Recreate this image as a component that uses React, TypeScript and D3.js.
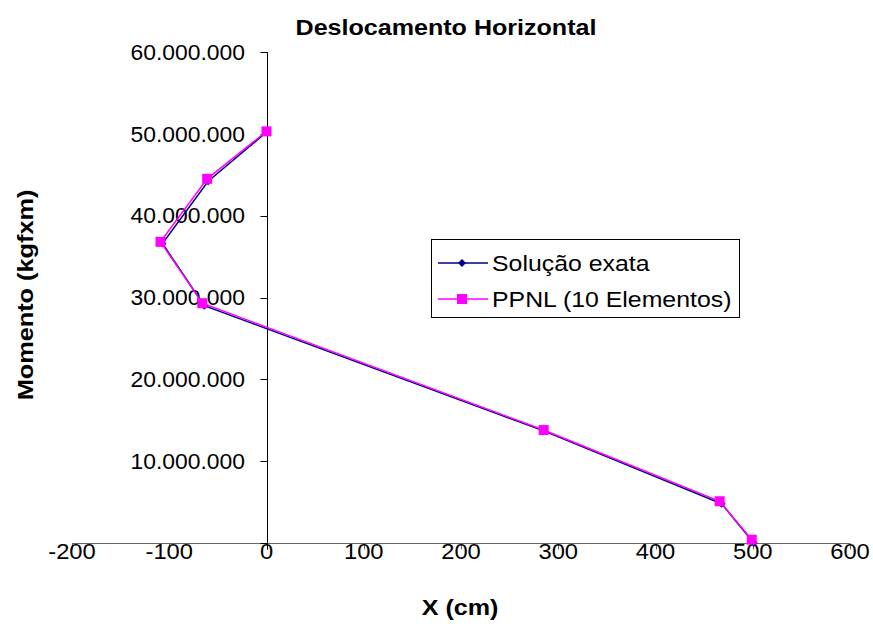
import React from "react";
import * as d3 from "d3";

// Series: horizontal displacement X (cm) vs bending moment (kgf x m)
const exactX = [0, -60, -107, -64, 285, 468, 501];
const exactM = [50200000, 44200000, 36600000, 29000000, 13700000, 4800000, 0];
const ppnlX = [0, -61, -109, -66, 285, 466, 499];
const ppnlM = [50300000, 44500000, 36800000, 29300000, 13800000, 5100000, 400000];

const xTicks = [-200, -100, 0, 100, 200, 300, 400, 500, 600];
const yTicks = [10000000, 20000000, 30000000, 40000000, 50000000, 60000000];

const seriesNames = ["Solução exata", "PPNL (10 Elementos)"];
const title = "Deslocamento Horizontal";
const xTitle = "X (cm)";
const yTitle = "Momento (kgfxm)";

const W = 873;
const H = 627;
const FONT = "Liberation Sans, Arial, sans-serif";
const NAVY = "#000080";
const MAGENTA = "#FF00FF";

const fmt = (v: number) => d3.format(",")(v).replace(/,/g, ".");

// Text with a slight horizontal stretch, as in wide Excel-style chart fonts
function Label(props: {
  x: number;
  y: number;
  sx?: number;
  rotate?: number;
  anchor?: "start" | "middle" | "end";
  size: number;
  bold?: boolean;
  dy?: string;
  children: React.ReactNode;
}) {
  const { x, y, sx = 1, rotate = 0, anchor = "start", size, bold, dy, children } = props;
  return (
    <text
      transform={`translate(${x},${y}) rotate(${rotate}) scale(${sx},1)`}
      textAnchor={anchor}
      fontSize={size}
      fontWeight={bold ? "bold" : "normal"}
      dy={dy}
    >
      {children}
    </text>
  );
}

export default function App() {
  const x = d3.scaleLinear().domain([-200, 600]).range([72, 850]);
  const y = d3.scaleLinear().domain([0, 60000000]).range([543, 52]);

  const exact = exactX.map((v, i) => [v, exactM[i]] as [number, number]);
  const ppnl = ppnlX.map((v, i) => [v, ppnlM[i]] as [number, number]);
  const line = d3
    .line<[number, number]>()
    .x((d) => x(d[0]))
    .y((d) => y(d[1]));

  const x0 = Math.round(x(0)) + 0.5;
  const yBase = Math.round(y(0)) + 0.5;

  const diamond = (cx: number, cy: number, r: number) =>
    `M${cx},${cy - r}L${cx + r},${cy}L${cx},${cy + r}L${cx - r},${cy}Z`;

  return (
    <svg
      width={W}
      height={H}
      style={{ position: "absolute", left: 0, top: 0, background: "#fff" }}
      fontFamily={FONT}
    >
      <rect x={0} y={0} width={W} height={H} fill="#fff" />
      {/* title */}
      <Label x={446} y={35} anchor="middle" bold size={22} sx={1.14}>
        {title}
      </Label>

      {/* x axis */}
      <line x1={x(-200)} x2={x(600)} y1={yBase} y2={yBase} stroke="#666" />
      {xTicks.map((t) => (
        <g key={t}>
          <line
            x1={Math.round(x(t)) + 0.5}
            x2={Math.round(x(t)) + 0.5}
            y1={yBase}
            y2={yBase + 6}
            stroke="#666"
          />
          <Label x={x(t)} y={559} anchor="middle" size={22} sx={1.08}>
            {t}
          </Label>
        </g>
      ))}

      {/* y axis */}
      <line x1={x0} x2={x0} y1={y(60000000)} y2={yBase + 6} stroke="#000" />
      {[0, ...yTicks].map((t) => (
        <line
          key={t}
          x1={x0 - 7}
          x2={x0}
          y1={Math.round(y(t)) + 0.5}
          y2={Math.round(y(t)) + 0.5}
          stroke="#000"
        />
      ))}
      {yTicks.map((t) => (
        <Label key={t} x={245} y={y(t)} dy="0.35em" anchor="end" size={22} sx={1.04}>
          {fmt(t)}
        </Label>
      ))}

      {/* axis titles */}
      <Label x={460} y={615} anchor="middle" bold size={22} sx={1.14}>
        {xTitle}
      </Label>
      <Label x={33} y={295} rotate={-90} anchor="middle" bold size={22} sx={1.15}>
        {yTitle}
      </Label>

      {/* series */}
      <path d={line(exact) ?? ""} fill="none" stroke={NAVY} strokeWidth={1.5} />
      {exact.map((d, i) => (
        <path key={i} d={diamond(x(d[0]), y(d[1]), 4)} fill={NAVY} />
      ))}
      <path d={line(ppnl) ?? ""} fill="none" stroke={MAGENTA} strokeWidth={1.5} />
      {ppnl.map((d, i) => (
        <rect
          key={i}
          x={x(d[0]) - 5}
          y={y(d[1]) - 5}
          width={10}
          height={10}
          fill={MAGENTA}
        />
      ))}

      {/* legend */}
      <rect x={431.5} y={239.5} width={308} height={78} fill="#fff" stroke="#000" />
      <line x1={438} x2={488} y1={263} y2={263} stroke={NAVY} strokeWidth={1.5} />
      <path d={diamond(462, 263, 4)} fill={NAVY} />
      <Label x={492} y={263} dy="0.35em" size={22} sx={1.13}>
        {seriesNames[0]}
      </Label>
      <line x1={438} x2={488} y1={299} y2={299} stroke={MAGENTA} strokeWidth={1.5} />
      <rect x={457} y={294} width={10} height={10} fill={MAGENTA} />
      <Label x={492} y={299} dy="0.35em" size={22} sx={1.13}>
        {seriesNames[1]}
      </Label>
    </svg>
  );
}
